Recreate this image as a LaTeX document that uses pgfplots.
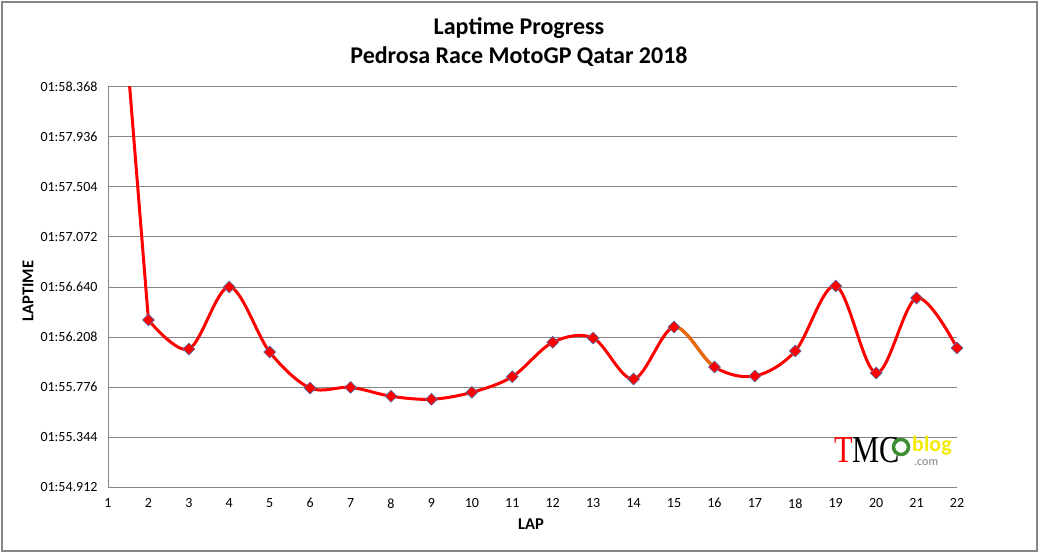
\documentclass[border=0pt]{standalone}
\usepackage{pgfplots}
\pgfplotsset{compat=1.18}
\usepackage{fontspec}
\setmainfont{Carlito}
\newfontfamily\serifl{Liberation Serif}
\definecolor{gridgray}{RGB}{134,134,134}
\definecolor{lineorange}{RGB}{228,108,10}
\definecolor{mkblue}{RGB}{80,110,170}
\definecolor{logogreen}{RGB}{60,140,50}
\definecolor{logoyellow}{RGB}{245,235,0}
\pgfplotstableread{
lap t
1 120.70
2 116.355
}\first
\pgfplotstableread{
lap t
2 116.355
3 116.104
4 116.640
5 116.078
6 115.767
7 115.773
8 115.696
9 115.670
10 115.730
11 115.865
12 116.162
13 116.199
14 115.845
15 116.294
16 115.949
17 115.871
18 116.087
19 116.649
20 115.897
21 116.545
22 116.113
}\laps
\pgfplotstableread{
lap t
14 115.845
15 116.294
16 115.949
17 115.871
}\orangeseg
\begin{document}
\begin{tikzpicture}[x=1bp,y=-1bp]
\path[use as bounding box,fill=white] (0,0) rectangle (1040,554);
\draw[gridgray,line width=1.2bp] (2,2) rectangle (1037,551);
\node[font=\bfseries\fontsize{24bp}{29bp}\selectfont,align=center] at (519,42) {Laptime Progress\\Pedrosa Race MotoGP Qatar 2018};
\node[font=\bfseries\fontsize{16.5bp}{18bp}\selectfont,rotate=90] at (28,291) {LAPTIME};
\node[font=\bfseries\fontsize{16.5bp}{18bp}\selectfont] at (531,524) {LAP};
\begin{axis}[
  at={(108bp,-487bp)}, anchor=origin,
  scale only axis, width=849bp, height=400bp,
  xmin=1, xmax=22, ymin=114.912, ymax=118.368,
  axis x line=bottom, axis y line=left,
  axis line style={gridgray,line width=1bp,-},
  xtick={1,...,22},
  ytick={114.912,115.344,115.776,116.208,116.640,117.072,117.504,117.936,118.368},
  yticklabels={01:54.912,01:55.344,01:55.776,01:56.208,01:56.640,01:57.072,01:57.504,01:57.936,01:58.368},
  ymajorgrids, grid style={gridgray,line width=1bp},
  major tick length=0pt,
  tick label style={font=\fontsize{14bp}{16bp}\selectfont},
  /pgf/number format/assume math mode=true,
  xticklabel style={yshift=-8bp},
  yticklabel style={xshift=-7bp},
  clip=true,
]
\addplot[red,line width=3bp,mark=none] table[x=lap,y=t]{\first};
\addplot[red,line width=3bp,smooth,tension=0.55,mark=none] table[x=lap,y=t]{\laps};
\begin{scope}
\clip (axis cs:15,114.912) rectangle (axis cs:16,118.368);
\addplot[lineorange,line width=3bp,smooth,tension=0.55,mark=none] table[x=lap,y=t]{\orangeseg};
\end{scope}
\addplot[only marks,mark=square*,mark size=4.2bp,
  mark options={rotate=45,fill=red,draw=mkblue,line width=0.6bp}] table[x=lap,y=t]{\laps};
\end{axis}
% logo
\node[anchor=base west,inner sep=0,font=\serifl\fontsize{38bp}{38bp}\selectfont,text=red,xscale=0.8] (T) at (834,462) {T};
\node[anchor=base west,inner sep=0,font=\serifl\fontsize{38bp}{38bp}\selectfont,xscale=0.8] at (852,462) {MC};
\draw[logogreen,line width=3.5bp,fill=white] (901,447) circle (7.5bp);
\node[anchor=base west,inner sep=0,font=\bfseries\fontsize{22bp}{22bp}\selectfont,text=logoyellow] at (912,451) {blog};
\node[anchor=base west,inner sep=0,font=\fontsize{12bp}{12bp}\selectfont,text=gray] at (914,465) {.com};
\end{tikzpicture}
\end{document}
